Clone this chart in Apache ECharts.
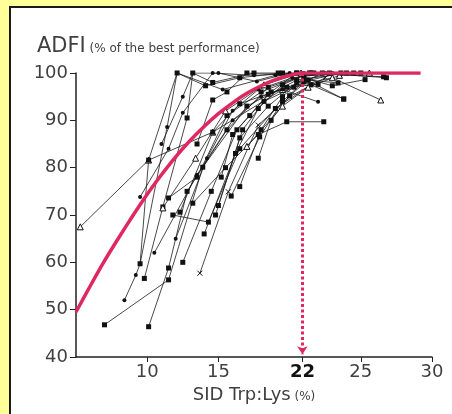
<!DOCTYPE html>
<html>
<head>
<meta charset="utf-8">
<script src="https://cdn.jsdelivr.net/npm/echarts@6/dist/echarts.min.js"></script>
<style>
    html, body { margin: 0; padding: 0; background: #FFFF99; overflow: hidden; }
    #adfiGraph {
        position: absolute; left: 9px; top: 6px;
        width: 441px; height: 406px;
        border-top: 2px solid #1a1a1a; border-left: 2px solid #1a1a1a;
        background: #fff;
    }
</style>
</head>
<body>
<div id="adfiGraph"></div>
<script>
// axis ticks
let xTicks = [10, 15, 20.9, 25, 30];
let optimumX = 20.9;          // where the "22" mark sits on the printed axis
let optimumLabel = '22';
let yTicks = [40, 50, 60, 70, 80, 90, 100];

// fitted response curve (red)
let fitCurve = [[5, 49.5], [6, 55], [7, 60.3], [8, 65.2], [9, 69.9], [10, 74.4], [11, 78.5], [12, 82.3],
    [13, 85.7], [14, 88.7], [15, 91.4], [16, 93.7], [17, 95.7], [18, 97.3], [19, 98.6], [20, 99.5],
    [20.9, 100], [29.2, 100]];

// individual trials (black)
let trialLines = [
    [[5.3, 67.5], [10.1, 81.6], [14.6, 87.5], [19.5, 96.5], [23, 99], [26.4, 94.3]],
    [[7.0, 46.8], [11.5, 56.3], [13.9, 80.1], [17, 93], [20.5, 98.5], [24, 100]],
    [[10.1, 46.4], [11.5, 58.8], [12.8, 75], [15.6, 88], [18.5, 97], [21.5, 100]],
    [[8.4, 52], [9.2, 57.3], [9.5, 59.7], [11.4, 88.6], [12.1, 100], [15.3, 96.5], [19, 99.5], [22.5, 100]],
    [[9.8, 56.6], [11.1, 71.7], [12.8, 90.5], [13.2, 100], [14.6, 98], [17.5, 100], [20.5, 100]],
    [[9.5, 59.7], [10.1, 81.6], [12.1, 100], [14.1, 97.3], [16.5, 99], [19.5, 100]],
    [[13.7, 57.7], [15.7, 74.9], [17.8, 89], [20, 95], [22.5, 99]],
    [[11.8, 70], [14.3, 68.5], [16.5, 84], [19.0, 92.5], [21.5, 97.5], [23.8, 94.5]],
    [[9.5, 73.8], [11.5, 84], [12.5, 91.6], [14.6, 100], [17.5, 99.5], [21, 100]],
    [[11.5, 73.6], [13.5, 78], [15.6, 91], [18, 96], [21, 99.5], [25, 100]],
    [[11.1, 71.5], [13.4, 82], [15.5, 92], [18.2, 97.5], [20.8, 100]],
    [[12.3, 70.6], [14.6, 87.5], [16.5, 93.5], [19.8, 97], [22.0, 97.6]],
    [[13.2, 72.5], [15.5, 80], [17.8, 87], [19.8, 89.7], [22.4, 89.7]],
    [[10.5, 62], [13.5, 78.5], [16, 90], [18, 95], [19.5, 96.5], [22.0, 93.9]],
    [[12.5, 60], [14.5, 75], [16.3, 88], [18.5, 95.5], [21.2, 98.5], [23.8, 94.5]],
    [[15.0, 72], [16.7, 88], [18.2, 94], [20.3, 97], [22.3, 100], [26.8, 99]],
    [[17.0, 84.5], [19.5, 93], [21.3, 97], [23.5, 99.5], [25.6, 100]],
    [[14.0, 66], [16.2, 83], [17.8, 92.5], [19.5, 97.5], [21.4, 100], [24.5, 100]],
    [[12.0, 65], [14.2, 82], [16.0, 92], [17.8, 96.5], [20.2, 99], [23.0, 100]],
    [[16.5, 76], [18.0, 88], [19.5, 95], [21.0, 99], [23.0, 97.3], [25.3, 98.6]],
    [[13.5, 85], [14.6, 94.3], [15.6, 96], [17.0, 100], [19.2, 100], [21.7, 100]],
    [[11.0, 85], [12.5, 95], [13.2, 100], [15.0, 100], [17.7, 98.2], [20, 100]],
    [[17.8, 82], [18.7, 90], [20, 95.2], [21.3, 98.5], [23.4, 97.9]],
    [[15.2, 78], [16.0, 87], [17.2, 91], [18.7, 96], [20.5, 100], [26.6, 99.2]],
    [[14.8, 70], [16.5, 86.3], [18.5, 93], [20.5, 98], [22.8, 100]],
    [[15.9, 74], [17.9, 86.5], [19.5, 94], [21.0, 98.2], [23.6, 100]]
];
let trialMarks = ['triangle', 'rect', 'rect', 'circle', 'rect', 'rect', 'cross', 'rect', 'circle', 'rect',
    'triangle', 'rect', 'rect', 'circle', 'rect', 'rect', 'triangle', 'rect', 'circle', 'rect',
    'rect', 'circle', 'rect', 'rect', 'rect', 'rect'];

let adfiGraph = echarts.init(document.getElementById('adfiGraph'));
let font = 'DejaVu Sans';

function markStyle(mark) {
    if (mark === 'triangle') {
        return {symbol: 'triangle', symbolSize: 6, itemStyle: {color: '#fff', borderColor: '#111', borderWidth: 1}};
    }
    if (mark === 'cross') {
        return {symbol: 'path://M0,0L10,10M10,0L0,10', symbolSize: 5,
            itemStyle: {color: 'none', borderColor: '#111', borderWidth: 1}};
    }
    if (mark === 'circle') {
        return {symbol: 'circle', symbolSize: 4, itemStyle: {color: '#111'}};
    }
    return {symbol: 'rect', symbolSize: 5, itemStyle: {color: '#111'}};
}

let series = [];
for (let i = 0; i < trialLines.length; i++) {
    let m = markStyle(trialMarks[i]);
    series.push({
        type: 'line',
        data: trialLines[i],
        symbol: m.symbol,
        symbolSize: m.symbolSize,
        showAllSymbol: true,
        itemStyle: m.itemStyle,
        lineStyle: {color: '#1a1a1a', width: 0.8},
        silent: true,
        animation: false,
        z: 2
    });
}

series.push({
    type: 'line',
    data: fitCurve,
    symbol: 'none',
    smooth: 0.2,
    lineStyle: {color: '#DF2860', width: 3.5},
    animation: false,
    z: 4,
    markLine: {
        silent: true,
        symbol: ['none', 'arrow'],
        symbolSize: [8, 8],
        label: {show: false},
        lineStyle: {color: '#DF2860', width: 3, type: [3, 2.5], cap: 'butt'},
        data: [[{coord: [optimumX, 100]}, {coord: [optimumX, 40.6]}]]
    }
});

let option = {
    animation: false,
    title: {
        text: 'ADFI{s| (% of the best performance)}',
        left: 21,
        top: 23,
        textStyle: {
            fontFamily: font, fontSize: 21, fontWeight: 'normal', color: '#404040',
            rich: {s: {fontFamily: font, fontSize: 12, color: '#404040', padding: [4, 0, 0, 0]}}
        }
    },
    grid: {left: 65, right: 20, top: 65, bottom: 57},
    xAxis: {
        type: 'value',
        min: 5,
        max: 30,
        name: 'SID Trp:Lys{s| (%)}',
        nameLocation: 'middle',
        nameGap: 26,
        nameTextStyle: {
            fontFamily: font, fontSize: 18, color: '#404040',
            rich: {s: {fontFamily: font, fontSize: 12, color: '#404040', padding: [4, 0, 0, 0]}}
        },
        axisLine: {show: true, lineStyle: {color: '#222', width: 1.5}},
        axisTick: {show: true, length: 5, customValues: xTicks, lineStyle: {color: '#222'}},
        axisLabel: {
            customValues: xTicks,
            margin: 6,
            fontFamily: font,
            fontSize: 18,
            color: '#404040',
            formatter: function (v) {
                if (Math.abs(v - optimumX) < 0.01) {
                    return '{b|' + optimumLabel + '}';
                }
                return v;
            },
            rich: {b: {fontFamily: font, fontSize: 18, fontWeight: 'bold', color: '#111'}}
        },
        splitLine: {show: false}
    },
    yAxis: {
        type: 'value',
        min: 40,
        max: 100,
        interval: 10,
        axisLine: {show: true, lineStyle: {color: '#222', width: 1.5}},
        axisTick: {show: true, length: 6, lineStyle: {color: '#222'}},
        axisLabel: {
            customValues: yTicks,
            margin: 8,
            fontFamily: font,
            fontSize: 18,
            color: '#404040'
        },
        splitLine: {show: false}
    },
    series: series
};
adfiGraph.setOption(option);
window.addEventListener('resize', function () {adfiGraph.resize();});
</script>
</body>
</html>
